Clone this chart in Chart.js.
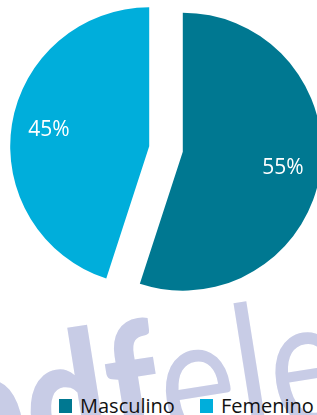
<!DOCTYPE html>
<html>
<head>
<meta charset="utf-8">
<script src="https://cdn.jsdelivr.net/npm/chart.js@4"></script>
<style>
  html, body { margin: 0; padding: 0; background: #fff; overflow: hidden; }
  #wrap { position: relative; width: 317px; height: 415px; overflow: hidden; }
  .watermark {
    position: absolute; left: -72px; top: 325px;
    font-family: Lato, sans-serif; font-size: 145px; line-height: 1;
    color: #c8cce6; white-space: nowrap;
    transform-origin: 0 0; transform: rotate(-9deg) scaleY(1.24);
    z-index: 0;
  }
  .watermark b { font-weight: 900; }
  .watermark span { font-weight: 400; }
  #chartBox { position: absolute; left: 0; top: 0; width: 317px; height: 298px; z-index: 1; }
  #legend {
    position: absolute; left: 59px; top: 392px; z-index: 1;
    display: flex; align-items: center;
    font-family: "Open Sans", sans-serif; font-size: 20px; color: #111;
  }
  .item { display: flex; align-items: center; margin-right: 25px; }
  .swatch { width: 13px; height: 14px; margin-right: 8px; }
</style>
</head>
<body>
<div id="wrap">
  <div class="watermark"><b>pdf</b><span>element</span></div>
  <div id="chartBox"><canvas id="chart"></canvas></div>
  <div id="legend"></div>
</div>
<script>
const labels = ['Masculino', 'Femenino'];
const values = [55, 45];
const colors = ['#007891', '#00aedb'];

const EXPLODE = 17; // px each slice is pulled out from the centre

// draw each arc shifted along its mid angle (Chart.js v4 offset also grows the radius)
const explodeSlices = {
  id: 'explodeSlices',
  beforeDatasetDraw(chart, args) {
    const { ctx } = chart;
    args.meta.data.forEach((arc) => {
      const { startAngle, endAngle } = arc.getProps(['startAngle', 'endAngle'], true);
      const mid = (startAngle + endAngle) / 2;
      ctx.save();
      ctx.translate(Math.cos(mid) * EXPLODE, Math.sin(mid) * EXPLODE);
      arc.draw(ctx, chart.chartArea);
      ctx.restore();
    });
    return false;
  }
};

// percentage text inside each slice
const sliceLabels = {
  id: 'sliceLabels',
  afterDatasetsDraw(chart) {
    const { ctx } = chart;
    const meta = chart.getDatasetMeta(0);
    const total = values.reduce((a, b) => a + b, 0);
    ctx.save();
    ctx.font = '21px "Open Sans"';
    ctx.fillStyle = '#fff';
    ctx.textAlign = 'center';
    ctx.textBaseline = 'middle';
    meta.data.forEach((arc, i) => {
      const { x, y, startAngle, endAngle, outerRadius } =
        arc.getProps(['x', 'y', 'startAngle', 'endAngle', 'outerRadius'], true);
      const mid = (startAngle + endAngle) / 2;
      const r = EXPLODE + outerRadius * 0.73;
      const pct = Math.round(values[i] / total * 100) + '%';
      ctx.fillText(pct, x + Math.cos(mid) * r, y + Math.sin(mid) * r);
    });
    ctx.restore();
  }
};

new Chart(document.getElementById('chart'), {
  type: 'pie',
  data: {
    labels,
    datasets: [{
      data: values,
      backgroundColor: colors,
      borderWidth: 0,
      radius: 139,
      clip: false,
    }],
  },
  options: {
    responsive: true,
    maintainAspectRatio: false,
    animation: false,
    layout: { padding: { left: 15 } },
    plugins: {
      legend: { display: false },
      tooltip: { enabled: false },
    },
  },
  plugins: [explodeSlices, sliceLabels],
});

const legendEl = document.getElementById('legend');
labels.forEach((name, i) => {
  const item = document.createElement('div');
  item.className = 'item';
  const sw = document.createElement('span');
  sw.className = 'swatch';
  sw.style.background = colors[i];
  const txt = document.createElement('span');
  txt.textContent = name;
  item.appendChild(sw);
  item.appendChild(txt);
  legendEl.appendChild(item);
});
</script>
</body>
</html>
